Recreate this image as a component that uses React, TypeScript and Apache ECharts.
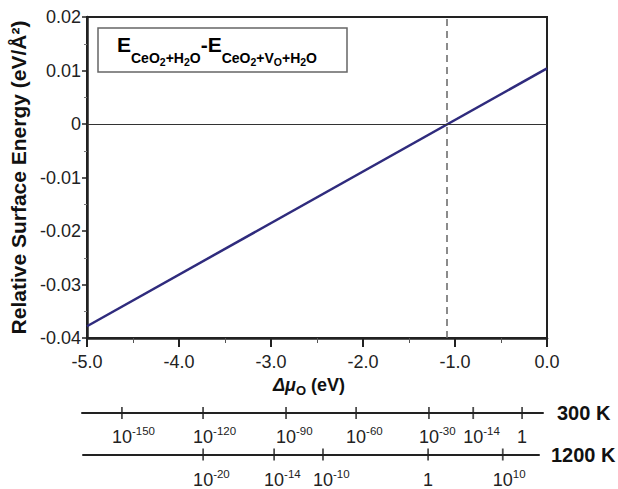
import React, { useEffect, useRef } from 'react';
import * as echarts from 'echarts';

// ---- data ----
const muMin = -5;
const muMax = 0;
const muStep = 1;
const energyMin = -0.04;
const energyMax = 0.02;
const energyStep = 0.01;
const lineMu = [-5.0, 0.0];
const lineEnergy = [-0.0378, 0.0104];
const crossingMu = -1.09;
const ticks300Mu = [-4.61, -3.73, -2.83, -2.07, -1.28, -0.8, -0.27];
const ticks300Exp = ['-150', '-120', '-90', '-60', '-30', '-14', ''];
const ticks1200Mu = [-3.73, -2.96, -2.43, -1.29, -0.48];
const ticks1200Exp = ['-20', '-14', '-10', '', '10'];
const scaleNames = ['300 K', '1200 K'];

const FONT = "'Liberation Sans', Arial, Helvetica, sans-serif";
const INK = '#222';
const POW_SIZE = 11.5;

function supWidth(exp: string) {
  let w = 0;
  for (const c of exp) w += c === '-' ? 0.333 : 0.556;
  return w * POW_SIZE;
}

function pressureAxisLabel(mus: number[], exps: string[], margin: number) {
  const rich: any = {
    one: { fontSize: 18, lineHeight: 24, fontFamily: FONT, color: INK },
    pow: { fontSize: POW_SIZE, lineHeight: 12, verticalAlign: 'top', fontFamily: FONT, color: INK },
  };
  exps.forEach((e, i) => {
    rich['t' + i] = { fontSize: 18, lineHeight: 24, fontFamily: FONT, color: INK, padding: [0, 0, 0, supWidth(e)] };
  });
  return {
    show: true,
    customValues: mus,
    margin,
    color: INK,
    fontSize: 18,
    fontFamily: FONT,
    hideOverlap: false,
    showMinLabel: true,
    showMaxLabel: true,
    formatter: (v: number) => {
      let i = 0;
      let best = Infinity;
      mus.forEach((m, k) => {
        const d = Math.abs(m - v);
        if (d < best) { best = d; i = k; }
      });
      const e = exps[i];
      return e === '' ? '{one|1}' : `{t${i}|10}{pow|${e}}`;
    },
    rich,
  };
}

function tickSeries(mus: number[], idx: number) {
  return {
    type: 'scatter',
    xAxisIndex: idx,
    yAxisIndex: idx,
    symbol: 'rect',
    symbolSize: [1.8, 12],
    itemStyle: { color: INK },
    silent: true,
    data: mus.map((m) => [m, 0]),
  };
}

export default function App() {
  const ref = useRef<HTMLDivElement>(null);
  useEffect(() => {
    if (!ref.current) return;
    const chart = echarts.init(ref.current, undefined, { renderer: 'svg' });
    const subRich = {
      E: { fontSize: 21, fontWeight: 'bold', fontFamily: FONT, color: '#111', verticalAlign: 'top', lineHeight: 33 },
      s: { fontSize: 14, fontWeight: 'bold', fontFamily: FONT, color: '#111', verticalAlign: 'bottom', padding: [0, 0, 2.5, 0] },
      ss: { fontSize: 10.5, fontWeight: 'bold', fontFamily: FONT, color: '#111', verticalAlign: 'bottom' },
    };
    const option: any = {
      animation: false,
      backgroundColor: '#fff',
      textStyle: { fontFamily: FONT },
      grid: [
        { left: 86, top: 17, width: 461, height: 321, show: true, borderColor: INK, borderWidth: 2, backgroundColor: 'transparent' },
        { left: 82, top: 403, width: 461, height: 20 },
        { left: 83, top: 449, width: 456, height: 20 },
      ],
      xAxis: [
        {
          gridIndex: 0,
          type: 'value',
          min: muMin,
          max: muMax,
          interval: muStep,
          axisLine: { show: true, onZero: false, lineStyle: { color: INK, width: 2.5 } },
          axisTick: { show: true, length: 9, lineStyle: { color: INK, width: 2 } },
          minorTick: { show: true, splitNumber: 2, length: 5, lineStyle: { color: '#555', width: 1 } },
          splitLine: { show: false },
          axisLabel: { margin: 15, fontSize: 18, color: INK, fontFamily: FONT, formatter: (v: number) => v.toFixed(1) },
          name: '{d|Δμ}{o|O}{n| (eV)}',
          nameLocation: 'middle',
          nameGap: 32,
          nameTextStyle: {
            padding: [0, 16, 0, 0],
            rich: {
              d: { fontSize: 18, fontWeight: 'bold', fontStyle: 'italic', fontFamily: FONT, color: '#111', lineHeight: 24 },
              o: { fontSize: 13, fontWeight: 'bold', fontFamily: FONT, color: '#111', verticalAlign: 'bottom' },
              n: { fontSize: 18, fontWeight: 'bold', fontFamily: FONT, color: '#111', lineHeight: 24 },
            },
          },
        },
        {
          gridIndex: 1,
          type: 'value',
          min: -5.043,
          max: -0.043,
          axisLine: { show: true, onZero: true, lineStyle: { color: INK, width: 2 } },
          axisTick: { show: false },
          axisLabel: pressureAxisLabel(ticks300Mu, ticks300Exp, 2),
          splitLine: { show: false },
          name: scaleNames[0],
          nameLocation: 'end',
          nameGap: 14,
          nameTextStyle: { fontSize: 20, fontWeight: 'bold', color: '#111', fontFamily: FONT, verticalAlign: 'middle' },
        },
        {
          gridIndex: 2,
          type: 'value',
          min: -5.033,
          max: -0.087,
          axisLine: { show: true, onZero: true, lineStyle: { color: INK, width: 2 } },
          axisTick: { show: false },
          axisLabel: pressureAxisLabel(ticks1200Mu, ticks1200Exp, 8),
          splitLine: { show: false },
          name: scaleNames[1],
          nameLocation: 'end',
          nameGap: 12,
          nameTextStyle: { fontSize: 20, fontWeight: 'bold', color: '#111', fontFamily: FONT, verticalAlign: 'middle' },
        },
      ],
      yAxis: [
        {
          gridIndex: 0,
          type: 'value',
          min: energyMin,
          max: energyMax,
          interval: energyStep,
          axisLine: { show: true, onZero: false, lineStyle: { color: INK, width: 2.5 } },
          axisTick: { show: true, length: 5, lineStyle: { color: INK, width: 1.5 } },
          minorTick: { show: true, splitNumber: 2, length: 3, lineStyle: { color: '#777', width: 1 } },
          splitLine: { show: false },
          axisLabel: {
            margin: 6,
            fontSize: 18,
            color: INK,
            fontFamily: FONT,
            formatter: (v: number) => (Math.abs(v) < 1e-9 ? '0' : v.toFixed(2)),
          },
          name: 'Relative Surface Energy (eV/Å²)',
          nameLocation: 'middle',
          nameGap: 58,
          nameTextStyle: { fontSize: 21, fontWeight: 'bold', color: '#111', fontFamily: FONT },
        },
        { gridIndex: 1, type: 'value', min: -1, max: 1, show: false },
        { gridIndex: 2, type: 'value', min: -1, max: 1, show: false },
      ],
      series: [
        {
          type: 'line',
          xAxisIndex: 0,
          yAxisIndex: 0,
          data: lineMu.map((m, i) => [m, lineEnergy[i]]),
          symbol: 'none',
          lineStyle: { color: '#2f2b7d', width: 2.5 },
          markLine: {
            silent: true,
            symbol: ['none', 'none'],
            label: { show: false },
            data: [
              { yAxis: 0, lineStyle: { color: '#333', width: 1, type: 'solid' } },
              { xAxis: crossingMu, lineStyle: { color: '#666', width: 1.5, type: [7, 5] } },
            ],
          },
        },
        tickSeries(ticks300Mu, 1),
        tickSeries(ticks1200Mu, 2),
      ],
      graphic: [
        {
          type: 'rect',
          shape: { x: 98, y: 28, width: 249, height: 44 },
          style: { fill: '#fff', stroke: '#666', lineWidth: 1.5 },
          z: 10,
        },
        {
          type: 'text',
          x: 117,
          y: 34,
          z: 11,
          style: {
            text: '{E|E}{s|CeO}{ss|2}{s|+H}{ss|2}{s|O}{E|-E}{s|CeO}{ss|2}{s|+V}{ss|O}{s|+H}{ss|2}{s|O}',
            rich: subRich,
            verticalAlign: 'top',
            align: 'left',
          },
        },
      ],
    };
    chart.setOption(option);
    return () => chart.dispose();
  }, []);
  return <div ref={ref} style={{ position: 'fixed', left: 0, top: 0, width: 618, height: 489 }} />;
}
